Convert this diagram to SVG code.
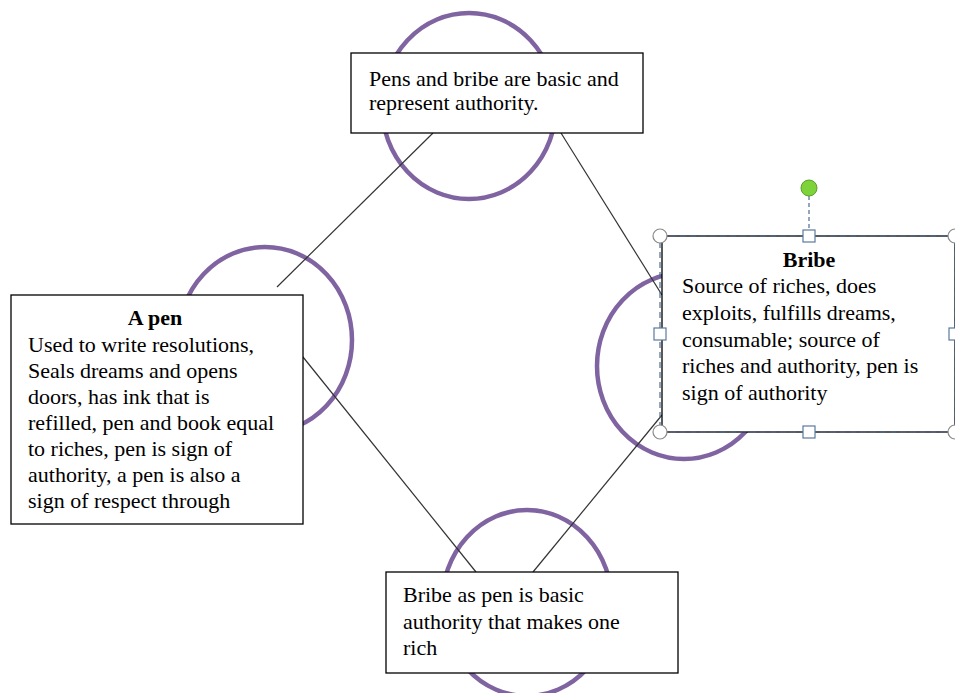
<svg xmlns="http://www.w3.org/2000/svg" width="955" height="693" viewBox="0 0 955 693">
<style>
.ring{fill:none;stroke:#8064A2;stroke-width:4.5}
.box{fill:#fff;stroke:#000;stroke-width:1.3}
.t{font-family:"Liberation Serif","Times New Roman",serif;font-size:22px;fill:#000}
.b{font-weight:bold;text-anchor:middle}
.con{stroke:#333;stroke-width:1.2;fill:none}
.sel{fill:none;stroke:#4F6D8F;stroke-width:1.2;stroke-dasharray:6 4}
.hc{fill:#fff;stroke:#8A8A8A;stroke-width:1.2}
.hs{fill:#fff;stroke:#5B7A9C;stroke-width:1.2}
</style>
<defs>
<clipPath id="penclip"><rect x="11" y="295" width="292" height="229"/></clipPath>
</defs>
<rect width="955" height="693" fill="#fff"/>
<g id="rings">
<ellipse class="ring" cx="469" cy="106" rx="87" ry="93"/>
<ellipse class="ring" cx="265" cy="340" rx="87" ry="93"/>
<ellipse class="ring" cx="684" cy="366" rx="87" ry="93"/>
<ellipse class="ring" cx="527" cy="603" rx="85" ry="93"/>
</g>
<g id="connectors">
<line class="con" x1="433" y1="133" x2="277" y2="287"/>
<line class="con" x1="561" y1="133" x2="662" y2="295"/>
<line class="con" x1="303" y1="357" x2="476" y2="572"/>
<line class="con" x1="533" y1="572" x2="662" y2="415"/>
</g>
<g id="top">
<rect class="box" x="351" y="53" width="292" height="80"/>
<text class="t" x="369" y="86">Pens and bribe are basic and</text>
<text class="t" x="369" y="110">represent authority.</text>
</g>
<g id="pen">
<rect class="box" x="11" y="295" width="292" height="229"/>
<g clip-path="url(#penclip)">
<text class="t b" x="155" y="325">A pen</text>
<text class="t" x="28" y="352">Used to write resolutions,</text>
<text class="t" x="28" y="378">Seals dreams and opens</text>
<text class="t" x="28" y="404">doors, has ink that is</text>
<text class="t" x="28" y="430">refilled, pen and book equal</text>
<text class="t" x="28" y="456">to riches, pen is sign of</text>
<text class="t" x="28" y="482">authority, a pen is also a</text>
<text class="t" x="28" y="508">sign of respect through</text>
</g>
</g>
<g id="bottom">
<rect class="box" x="386" y="572" width="292" height="101"/>
<text class="t" x="403" y="602">Bribe as pen is basic</text>
<text class="t" x="403" y="629">authority that makes one</text>
<text class="t" x="403" y="655">rich</text>
</g>
<g id="bribe">
<rect class="box" x="662" y="236" width="293" height="196"/>
<text class="t b" x="809" y="267">Bribe</text>
<text class="t" x="682" y="293">Source of riches, does</text>
<text class="t" x="682" y="320">exploits, fulfills dreams,</text>
<text class="t" x="682" y="347">consumable; source of</text>
<text class="t" x="682" y="373">riches and authority, pen is</text>
<text class="t" x="682" y="400">sign of authority</text>
<rect class="sel" x="660" y="236" width="295" height="196"/>
<line x1="809" y1="196" x2="809" y2="230" stroke="#4F6D8F" stroke-width="1.2" stroke-dasharray="4 3"/>
<circle cx="809" cy="188" r="8" fill="#7ED23A" stroke="#5AA02A" stroke-width="1"/>
<circle class="hc" cx="660" cy="236" r="7"/>
<circle class="hc" cx="955" cy="236" r="7"/>
<circle class="hc" cx="660" cy="432" r="7"/>
<circle class="hc" cx="955" cy="432" r="7"/>
<rect class="hs" x="803" y="230" width="12" height="12"/>
<rect class="hs" x="803" y="426" width="12" height="12"/>
<rect class="hs" x="654" y="328" width="12" height="12"/>
<rect class="hs" x="949" y="328" width="12" height="12"/>
</g>
</svg>
